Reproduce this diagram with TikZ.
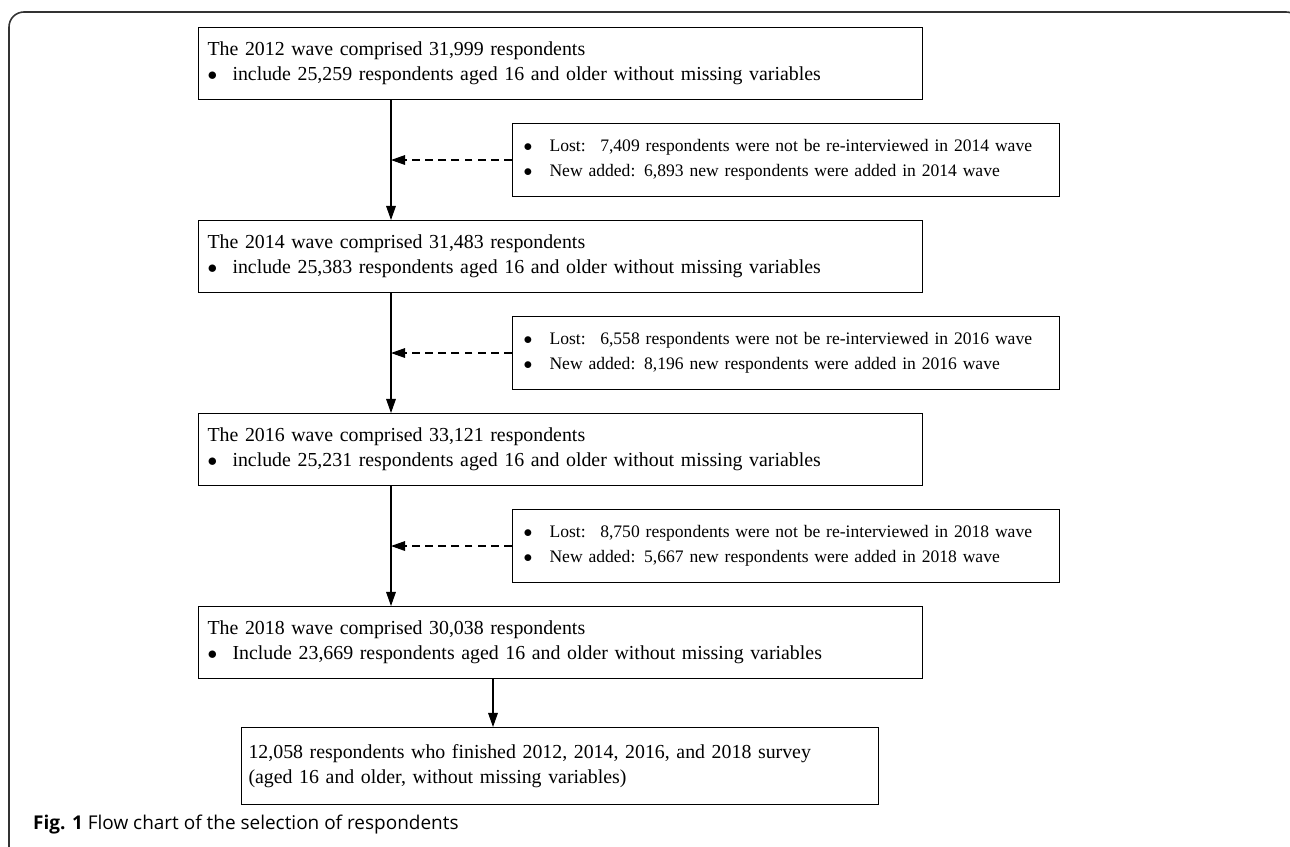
\documentclass[tikz,border=0pt]{standalone}
\usepackage{fontspec}
\setmainfont{Liberation Serif}
\newfontfamily\capfont{Open Sans}
\usepackage{tikz}
\usetikzlibrary{arrows.meta}
\newcommand{\bul}{\makebox[0.5cm][l]{$\bullet$}}
\newcommand{\lbul}{\makebox[0.52cm][l]{$\bullet$}}
\tikzset{
  wave/.style={draw,line width=0.6pt,anchor=north west,align=left,
    inner xsep=0.18cm,inner ysep=0pt,text width=14.12cm,minimum height=1.44cm,
    font=\fontsize{11.3}{14.2}\selectfont},
  lost/.style={wave,inner xsep=0.22cm,text width=10.5cm,minimum height=1.46cm,
    font=\fontsize{10}{14.2}\selectfont},
  final/.style={wave,inner xsep=0.14cm,text width=12.46cm,minimum height=1.54cm},
  flow/.style={line width=0.6pt,-{Triangle[length=8pt,width=5.5pt]}},
  back/.style={flow,dash pattern=on 4.5pt off 3pt}
}
\begin{document}
\begin{tikzpicture}[x=0.02cm,y=-0.02cm]
\useasboundingbox (0,0) rectangle (1290,847);
\clip (0,0) rectangle (1290,847);
\draw[line width=0.9pt,black!80,rounded corners=0.3cm](9,880)--(9,12)--(1301,12)--(1301,880);
\coordinate (mx) at (391,0);
\coordinate (fx) at (493,0);
\node[wave] (w12) at (198,27){The 2012 wave comprised 31,999 respondents\\
\bul include 25,259 respondents aged 16 and older without missing variables};
\node[lost] (l14) at (512,123){\lbul Lost:~ 7,409 respondents were not be re-interviewed in 2014 wave\\
\lbul New added: 6,893 new respondents were added in 2014 wave};
\node[wave] (w14) at (198,220){The 2014 wave comprised 31,483 respondents\\
\bul include 25,383 respondents aged 16 and older without missing variables};
\node[lost] (l16) at (512,316){\lbul Lost:~ 6,558 respondents were not be re-interviewed in 2016 wave\\
\lbul New added: 8,196 new respondents were added in 2016 wave};
\node[wave] (w16) at (198,413){The 2016 wave comprised 33,121 respondents\\
\bul include 25,231 respondents aged 16 and older without missing variables};
\node[lost] (l18) at (512,509){\lbul Lost:~ 8,750 respondents were not be re-interviewed in 2018 wave\\
\lbul New added: 5,667 new respondents were added in 2018 wave};
\node[wave] (w18) at (198,606){The 2018 wave comprised 30,038 respondents\\
\bul Include 23,669 respondents aged 16 and older without missing variables};
\node[final] (fin) at (241,727){12,058 respondents who finished 2012, 2014, 2016, and 2018 survey\\
(aged 16 and older, without missing variables)};
\draw[flow](w12.south -| mx)--(w14.north -| mx);
\draw[flow](w14.south -| mx)--(w16.north -| mx);
\draw[flow](w16.south -| mx)--(w18.north -| mx);
\draw[flow](w18.south -| fx)--(fin.north -| fx);
\draw[back](l14.west)--(l14.west -| mx);
\draw[back](l16.west)--(l16.west -| mx);
\draw[back](l18.west)--(l18.west -| mx);
\node[anchor=base west,font=\capfont\fontsize{10.8}{12}\selectfont] (cap) at (27,829){\textbf{Fig. 1} Flow chart of the selection of respondents};
\end{tikzpicture}
\end{document}
